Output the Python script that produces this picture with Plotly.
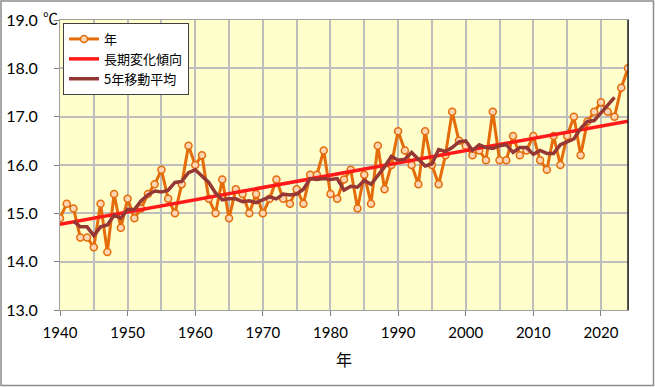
import numpy as np
import pandas as pd
import plotly.graph_objects as go

years = list(range(1940, 2025))
temps = [
    14.9, 15.2, 15.1, 14.5, 14.5, 14.3, 15.2, 14.2, 15.4, 14.7,  # 1940s
    15.3, 14.9, 15.1, 15.4, 15.6, 15.9, 15.3, 15.0, 15.6, 16.4,  # 1950s
    16.0, 16.2, 15.3, 15.0, 15.7, 14.9, 15.5, 15.4, 15.0, 15.4,  # 1960s
    15.0, 15.3, 15.7, 15.3, 15.2, 15.5, 15.2, 15.8, 15.8, 16.3,  # 1970s
    15.4, 15.3, 15.7, 15.9, 15.1, 15.8, 15.2, 16.4, 15.5, 16.0,  # 1980s
    16.7, 16.3, 16.0, 15.6, 16.7, 16.0, 15.6, 16.2, 17.1, 16.5,  # 1990s
    16.4, 16.2, 16.3, 16.1, 17.1, 16.1, 16.1, 16.6, 16.2, 16.3,  # 2000s
    16.6, 16.1, 15.9, 16.6, 16.0, 16.6, 17.0, 16.2, 16.9, 17.1,  # 2010s
    17.3, 17.1, 17.0, 17.6, 18.0,                                # 2020s
]
x_ticks = list(range(1940, 2021, 10))
y_ticks = [13.0, 14.0, 15.0, 16.0, 17.0, 18.0, 19.0]
series_names = ["年", "長期変化傾向", "5年移動平均"]

# derived series
coef = np.polyfit(years, temps, 1)
trend = np.polyval(coef, years)
ma5 = pd.Series(temps).rolling(5, center=True).mean()

FONT = "Lato, 'Noto Sans CJK JP', sans-serif"
JP = "'Noto Sans CJK JP', sans-serif"

fig = go.Figure()
fig.add_trace(go.Scatter(
    x=years, y=temps, name=series_names[0], mode="lines+markers",
    line=dict(color="#E46C0A", width=3),
    marker=dict(size=7, color="#FCD5B4", line=dict(color="#E46C0A", width=1.5)),
))
fig.add_trace(go.Scatter(
    x=years, y=trend, name=series_names[1], mode="lines",
    line=dict(color="#FF1A1A", width=3.5),
))
fig.add_trace(go.Scatter(
    x=years, y=ma5, name=series_names[2], mode="lines",
    line=dict(color="#953735", width=3.5),
))

L, R, T, B = 60, 27, 20, 77
W, H = 655, 387
pw, ph = W - L - R, H - T - B

fig.update_layout(
    width=W, height=H,
    margin=dict(l=L, r=R, t=T, b=B, pad=0, autoexpand=False),
    paper_bgcolor="white",
    plot_bgcolor="#FFFFCC",
    font=dict(family=FONT, size=15, color="#000000"),
    showlegend=True,
    legend=dict(
        x=(63 - L) / pw, y=1 - (23 - T) / ph, xanchor="left", yanchor="top",
        bgcolor="white", bordercolor="#404040", borderwidth=1,
        font=dict(family=JP, size=13, color="#000000"),
        tracegroupgap=0, itemwidth=30,
    ),
    xaxis=dict(
        range=[1940, 2024], tickvals=x_ticks, ticktext=[str(v) for v in x_ticks],
        automargin=False,
        showgrid=True, gridcolor="#BEBEBE", gridwidth=1.5,
        minor=dict(dtick=5, tick0=1940, showgrid=True, gridcolor="#BEBEBE", gridwidth=1.5),
        ticks="outside", ticklen=5, tickcolor="#808080", tickwidth=1,
        ticklabelstandoff=4,
        showline=True, linecolor="#A0A0A0", linewidth=1, mirror=True,
        zeroline=False,
        tickfont=dict(family=FONT, size=15),
        title=dict(text="年", font=dict(family=JP, size=16), standoff=14),
    ),
    yaxis=dict(
        range=[13, 19], tickvals=y_ticks, ticktext=[f"{v:.1f}" for v in y_ticks],
        automargin=False,
        showgrid=True, gridcolor="#BEBEBE", gridwidth=1.5,
        ticks="outside", ticklen=5, tickcolor="#808080", tickwidth=1,
        ticklabelstandoff=13,
        showline=True, linecolor="#A0A0A0", linewidth=1, mirror=True,
        zeroline=False,
        tickfont=dict(family=FONT, size=16),
    ),
    annotations=[dict(
        text="℃", xref="paper", yref="paper",
        x=(41 - L) / pw, y=1 + (T - 5) / ph, xanchor="left", yanchor="top",
        showarrow=False, font=dict(family=JP, size=15, color="#000000"),
    )],
    shapes=[
        dict(type="line", xref="paper", yref="paper", x0=1, x1=1, y0=0, y1=1,
             line=dict(color="#202020", width=1.5)),
        dict(type="rect", xref="paper", yref="paper",
             x0=(1 - L) / pw, x1=(W - 1.5 - L) / pw,
             y0=-(B - 1.5) / ph, y1=1 + (T - 1) / ph,
             line=dict(color="#8C8C8C", width=1.5), layer="below"),
    ],
)

fig.write_html(
    "out.html",
    config={"displayModeBar": False},
    post_script="document.body.style.margin='0';document.body.style.padding='0';document.body.style.overflow='hidden';",
)
